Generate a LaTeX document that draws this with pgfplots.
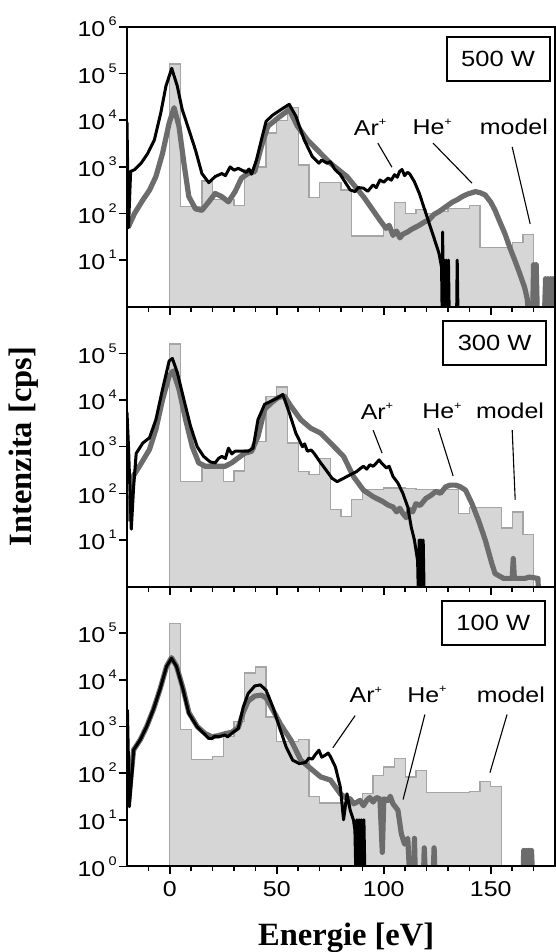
\documentclass[border=0pt]{standalone}
\usepackage{fontspec}
\usepackage{graphicx}
\setmainfont{Liberation Serif}
\newfontfamily\hv{Liberation Sans}
\usepackage{pgfplots}
\pgfplotsset{compat=1.18}

\definecolor{histfill}{RGB}{214,214,214}
\definecolor{histline}{RGB}{165,165,165}
\definecolor{heline}{RGB}{108,108,108}

% the sans labels in the original are a little wider than Arial
\newcommand\sx[1]{\scalebox{1.16}[1]{#1}}
\newcommand\ticktxt{\hv\fontsize{21.5}{22}\selectfont}
\newcommand\ee[1]{\sx{10\hspace{3pt}\raisebox{11pt}{\fontsize{12.5}{12.5}\selectfont #1}}}
\newcommand\ion[2]{\sx{#1\raisebox{9.5pt}{\fontsize{11}{11}\selectfont #2}}}

\pgfplotsset{
  histo/.style={const plot, fill=histfill, draw=histline, line width=1.3pt},
  heplot/.style={heline, line width=5.2pt, line join=round},
  arplot/.style={black, line width=3pt, line join=round},
}
\tikzset{
  lbltxt/.style={font=\ticktxt},
  wattbox/.style={draw, line width=2pt, minimum width=103pt, minimum height=44pt, font=\hv\fontsize{22}{22}\selectfont},
  pointer/.style={line width=1.1pt},
}

\begin{document}
\begin{tikzpicture}

% 500 W
\begin{axis}[scale only axis, width=428pt, height=279.8pt,
  xmin=-20, xmax=180, ymode=log, ymin=1, ymax=1e6,
  axis line style={line width=2pt},
  tick align=outside, xtick pos=bottom, ytick pos=left,
  xtick={0,50,100,150},
  minor xtick={-10,10,20,30,40,60,70,80,90,110,120,130,140,160,170},
  yminorticks=false,
  major tick length=8pt, minor tick length=5pt,
  tick style={line width=1.6pt, black},
  axis on top,
  ticklabel style={font=\ticktxt},
  yticklabel style={inner sep=0pt, xshift=-2pt},
  at={(0pt,559.6pt)}, anchor=south west,
  xticklabels={},
  ytick={10,100,1000,1e4,1e5,1e6},
  yticklabels={\ee{1},\ee{2},\ee{3},\ee{4},\ee{5},\ee{6}}]
\addplot[histo] coordinates {(0,1) (0,1.6e5) (5,140) (15,500) (20,200) (25,200) (30,150) (35,860) (40,1000) (45,5300) (50,1.0e4) (55,1.85e4) (60,1100) (65,220) (70,470) (80,320) (85,33) (100,45) (105,175) (110,100) (115,120) (120,100) (125,110) (130,130) (140,150) (145,19) (160,24) (165,36) (170,36) (170,1)};
\addplot[heplot] coordinates {(-19.5,50) (-16.5,100) (-12.6,195) (-9.5,316) (-6.5,620) (-3.4,1950) (-0.3,8700) (2,18600) (4.3,7400) (6.6,1200) (8.9,230) (12,126) (15,117) (18.2,178) (21.2,270) (24.3,230) (27.4,178) (30.5,295) (33.5,575) (36.6,725) (39.7,795) (42.8,2750) (45.8,7400) (50.5,11200) (55.8,17000) (59.7,7400) (64.3,3800) (70.5,1950) (75,1200) (82.8,620) (90.5,230) (98.2,72) (101,48) (102.5,56) (104.3,34) (106,42) (107.5,30) (108.9,36) (111,40) (113,46) (116.6,56) (119,66) (121,72) (123.5,96) (125.8,110) (129,140) (132,175) (134.5,200) (136.6,230) (139,260) (142.8,295) (145,280) (147.4,250) (150,175) (152,117) (154,70) (156.6,37) (159,18) (161.2,10) (163,6) (165.8,2.6) (167,1.5) (168,0.5) (169.5,0.5) (170,8) (170.6,0.5) (171.2,8) (171.8,0.5) (175,0.5) (175.6,4) (176.2,0.5) (176.8,4) (177.4,0.5) (178,4) (178.6,0.5) (179.2,4) (179.8,0.5)};
\addplot[arplot] coordinates {(-20,9000) (-19.3,50) (-18.3,800) (-16.5,870) (-13.4,1200) (-10.3,1950) (-7.2,3800) (-4.2,14500) (-1.8,54000) (0.9,1.3e5) (3.5,54000) (5.8,17000) (8.9,6300) (12,2300) (15,720) (18.2,460) (21.2,620) (24.3,720) (26,650) (28.2,1000) (30,850) (32,930) (35.8,760) (37,900) (38.2,700) (40.5,1400) (42.8,3800) (45,9500) (48.2,13000) (52,17000) (55.8,22000) (58.9,12300) (62.8,3800) (66.6,1660) (69.7,1200) (71,1400) (73.5,1200) (75,1300) (77,900) (79.7,680) (84.3,320) (86.6,295) (88,360) (90.5,350) (92.5,300) (95,410) (96.5,360) (98.2,525) (100,470) (102,575) (103.5,520) (105,680) (106.3,600) (107.4,800) (108.5,880) (109.7,650) (111,760) (112,720) (114.3,480) (116.6,270) (119.7,100) (122.8,37) (125.8,14) (127,7) (127.3,0.5) (127.5,40) (127.8,0.5) (128.3,10) (128.7,0.5) (129.2,10) (129.7,0.5) (130.2,10) (130.6,0.5) (134,0.5) (134.3,10) (134.7,0.5)};
\node[wattbox] at (rel axis cs:0.867,0.886) {\sx{500 W}};
\node[lbltxt] at (rel axis cs:0.568,0.642) {\ion{Ar}{+}};
\node[lbltxt] at (rel axis cs:0.713,0.642) {\ion{He}{+}};
\node[lbltxt] at (rel axis cs:0.904,0.642) {\sx{model}};
\draw[pointer] (rel axis cs:0.586,0.585) -- (rel axis cs:0.619,0.499);
\draw[pointer] (rel axis cs:0.715,0.585) -- (rel axis cs:0.806,0.442);
\draw[pointer] (rel axis cs:0.900,0.571) -- (rel axis cs:0.942,0.296);
\end{axis}

% 300 W
\begin{axis}[scale only axis, width=428pt, height=279.8pt,
  xmin=-20, xmax=180, ymode=log, ymin=1, ymax=1e6,
  axis line style={line width=2pt},
  tick align=outside, xtick pos=bottom, ytick pos=left,
  xtick={0,50,100,150},
  minor xtick={-10,10,20,30,40,60,70,80,90,110,120,130,140,160,170},
  yminorticks=false,
  major tick length=8pt, minor tick length=5pt,
  tick style={line width=1.6pt, black},
  axis on top,
  ticklabel style={font=\ticktxt},
  yticklabel style={inner sep=0pt, xshift=-2pt},
  at={(0pt,279.8pt)}, anchor=south west,
  xticklabels={},
  ytick={10,100,1000,1e4,1e5},
  yticklabels={\ee{1},\ee{2},\ee{3},\ee{4},\ee{5}},
  ylabel={Intenzita [cps]},
  ylabel style={at={(rel axis cs:-0.2407,0.5)}, anchor=center, font=\bfseries\fontsize{32.5}{34}\selectfont}]
\addplot[histo] coordinates {(0,1) (0,1.6e5) (5,180) (15,400) (25,180) (30,300) (35,870) (40,1300) (45,1.2e4) (50,1.9e4) (55,1200) (60,290) (65,250) (70,550) (75,45) (80,32) (85,75) (90,120) (100,130) (110,125) (115,120) (120,120) (135,37) (140,50) (155,18) (160,40) (165,13) (170,13) (170,1)};
\addplot[heplot] coordinates {(-19.5,25) (-17.2,230) (-14.2,380) (-9.5,870) (-6.5,2350) (-3.4,10200) (-0.3,33000) (1.5,42000) (4.3,17000) (7.4,3800) (10.5,1000) (13.5,450) (16.6,380) (19.7,380) (22.8,380) (25.8,380) (28.9,450) (32,575) (35,725) (38.2,795) (41.2,1660) (44.3,6300) (47.4,8700) (50.5,11200) (53.5,12300) (56.6,7400) (61.2,3800) (65.8,2500) (70.5,1950) (75.1,1200) (81.2,620) (85.8,230) (90.5,117) (95,85) (99.7,66) (102,56) (104.3,51) (106,40) (107.5,48) (108.9,37) (110.5,30) (112,45) (113.5,40) (115,60) (117,55) (119.7,78) (122,90) (124.3,110) (126.5,100) (128.9,138) (131,150) (133.5,150) (135.5,140) (138.2,117) (141.2,60) (144.3,26) (147.4,10) (150.5,3.1) (152,1.9) (156,1.5) (160,1.5) (160.5,4) (161,1.5) (166,1.5) (168,1.6) (172,1.5) (172.5,0.5)};
\addplot[arplot] coordinates {(-20,5400) (-19.3,1000) (-18,17) (-16.9,138) (-15.7,720) (-12.6,1200) (-9.5,1550) (-6.5,3800) (-3.4,17000) (-0.3,69000) (1.2,78000) (3.5,39000) (6.6,10200) (9.7,2750) (12.8,1000) (15.8,620) (18.9,470) (21.2,450) (22.8,560) (24.3,620) (26,560) (27.4,930) (29,700) (30.5,800) (33.5,800) (36.6,800) (38.9,930) (41.2,3800) (44.3,8100) (47.4,9500) (50.5,11200) (52.8,13200) (55.8,5400) (58.9,1950) (62,1000) (63,1150) (64.3,800) (66,850) (67.4,725) (70.5,450) (73.5,295) (75.8,210) (78.2,178) (81.2,210) (84.3,250) (87.4,295) (89,340) (90.5,380) (92,330) (93.5,410) (95,380) (96.6,450) (97.8,520) (98.9,450) (101.2,350) (102.5,380) (104.3,230) (106.6,166) (108.9,100) (111.2,51) (112.8,19) (114.3,10) (115.8,3.6) (116.2,0.5) (116.5,10) (117,0.5) (117.4,10) (117.9,0.5) (118.4,10) (118.9,0.5)};
\node[wattbox] at (rel axis cs:0.859,0.872) {\sx{300 W}};
\node[lbltxt] at (rel axis cs:0.584,0.627) {\ion{Ar}{+}};
\node[lbltxt] at (rel axis cs:0.736,0.627) {\ion{He}{+}};
\node[lbltxt] at (rel axis cs:0.895,0.627) {\sx{model}};
\draw[pointer] (rel axis cs:0.575,0.559) -- (rel axis cs:0.596,0.477);
\draw[pointer] (rel axis cs:0.727,0.566) -- (rel axis cs:0.762,0.395);
\draw[pointer] (rel axis cs:0.900,0.559) -- (rel axis cs:0.907,0.310);
\end{axis}

% 100 W
\begin{axis}[scale only axis, width=428pt, height=279.8pt,
  xmin=-20, xmax=180, ymode=log, ymin=1, ymax=1e6,
  axis line style={line width=2pt},
  tick align=outside, xtick pos=bottom, ytick pos=left,
  xtick={0,50,100,150},
  minor xtick={-10,10,20,30,40,60,70,80,90,110,120,130,140,160,170},
  yminorticks=false,
  major tick length=8pt, minor tick length=5pt,
  tick style={line width=1.6pt, black},
  axis on top,
  ticklabel style={font=\ticktxt},
  yticklabel style={inner sep=0pt, xshift=-2pt},
  xticklabel style={yshift=-4pt},
  at={(0pt,0pt)}, anchor=south west,
  ytick={1,10,100,1000,1e4,1e5},
  yticklabels={\ee{0},\ee{1},\ee{2},\ee{3},\ee{4},\ee{5}},
  xticklabels={\sx{0},\sx{50},\sx{100},\sx{150}},
  xlabel={Energie [eV]},
  xlabel style={at={(rel axis cs:0.512,-0.281)}, anchor=base, font=\bfseries\fontsize{32.5}{34}\selectfont}]
\addplot[histo] coordinates {(0,1) (0,1.6e5) (5,870) (10,195) (20,230) (25,600) (30,1260) (35,1.4e4) (40,1.9e4) (45,1600) (50,470) (60,530) (65,32) (70,23) (90,36) (95,90) (100,135) (105,205) (110,83) (115,115) (120,38) (140,40) (145,67) (150,52) (155,52) (155,1)};
\addplot[heplot] coordinates {(-19.5,20) (-18.5,60) (-16.9,316) (-13.8,520) (-10.8,1000) (-7.7,2300) (-4.6,6200) (-1.5,19500) (0.8,30000) (3.1,20000) (6.2,6500) (8.9,2000) (12.8,1000) (16.6,700) (19.7,600) (22.8,640) (25.8,700) (28.9,750) (32,950) (34.3,2000) (36.6,3500) (39.7,4500) (42.8,4700) (45,4100) (48.2,2240) (52,1070) (56.6,510) (61.2,190) (65.8,126) (70.5,83) (75.1,71) (79.7,36) (82,30) (84.3,28) (86,22) (88.9,26) (90.5,20) (92,26) (93.5,30) (95,24) (96.5,30) (98.2,28) (99.3,2) (100,28) (102,26) (103,32) (104.3,22) (106.6,16) (108.2,5) (109.7,3) (111.2,4) (112.2,0.5) (114,0.5) (114.3,4) (114.8,0.5) (118.5,0.5) (118.9,2.5) (119.5,0.5) (123,0.5) (123.5,2.5) (124,0.5) (165,0.5) (165.4,2.2) (166,0.5) (166.6,2.2) (167.2,0.5) (167.8,2.2) (168.4,0.5) (169,2.2) (169.6,0.5)};
\addplot[arplot] coordinates {(-19.8,2300) (-18.9,19) (-17.5,120) (-16.9,316) (-13.8,520) (-10.8,1000) (-7.7,2300) (-4.6,6200) (-1.5,19500) (0.8,29000) (3.1,19500) (6.2,6200) (8.9,1900) (12.8,980) (16.6,660) (18,560) (19.7,550) (21,620) (22.8,600) (25.8,660) (27,600) (28.9,710) (32,910) (34.3,2600) (36.6,5100) (39.7,7400) (42.3,7800) (45,6000) (48.2,2600) (51.2,980) (54.3,370) (57.4,190) (60.5,160) (63.5,170) (65,210) (66.6,200) (68,250) (69.7,310) (71,220) (72.8,245) (74,270) (75.1,225) (77.4,135) (79.7,50) (81.2,10) (82.8,36) (84.3,16) (85.8,10) (86.5,6) (87,0.5) (87.4,10) (88,0.5) (88.5,10) (89,0.5) (89.5,10) (90.2,0.5) (90.7,10) (91.2,0.5)};
\node[wattbox] at (rel axis cs:0.856,0.869) {\sx{100 W}};
\node[lbltxt] at (rel axis cs:0.558,0.614) {\ion{Ar}{+}};
\node[lbltxt] at (rel axis cs:0.701,0.614) {\ion{He}{+}};
\node[lbltxt] at (rel axis cs:0.897,0.614) {\sx{model}};
\draw[pointer] (rel axis cs:0.533,0.539) -- (rel axis cs:0.481,0.424);
\draw[pointer] (rel axis cs:0.696,0.543) -- (rel axis cs:0.645,0.239);
\draw[pointer] (rel axis cs:0.888,0.543) -- (rel axis cs:0.848,0.335);
\end{axis}

\pgfresetboundingbox
\useasboundingbox (-127pt,-85.6pt) rectangle (428pt,866.4pt);
\end{tikzpicture}
\end{document}
